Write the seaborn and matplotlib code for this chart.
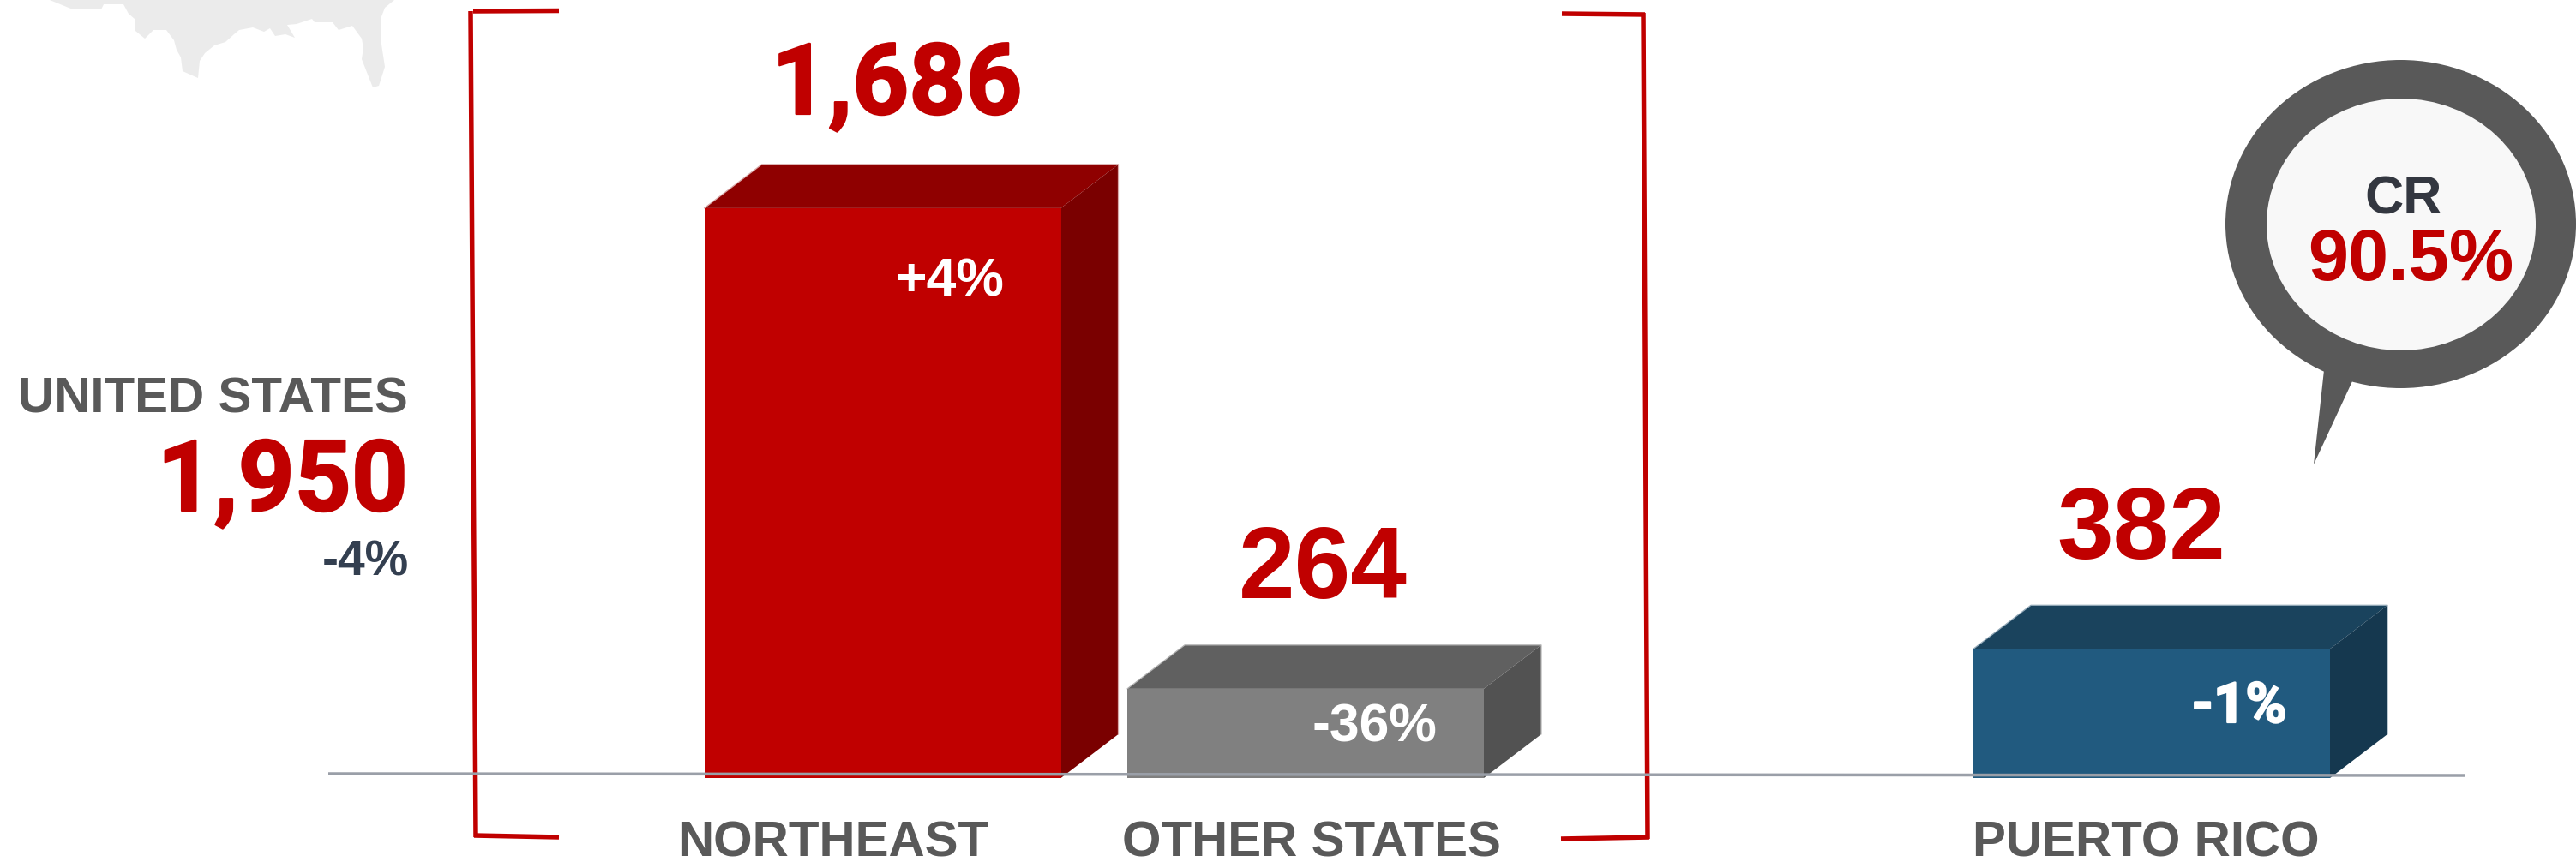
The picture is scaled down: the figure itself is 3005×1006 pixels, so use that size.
import matplotlib
matplotlib.use("Agg")
import matplotlib.patheffects as pe
import matplotlib.pyplot as plt
import pandas as pd
import seaborn as sns
from matplotlib.patches import Ellipse, Polygon

# Chart data
categories = ["NORTHEAST", "OTHER STATES", "PUERTO RICO"]
values = [1686, 264, 382]
value_labels = ["1,686", "264", "382"]
change_labels = ["+4%", "-36%", "-1%"]
total_name = "UNITED STATES"
total_label = "1,950"
total_change = "-4%"
callout_title = "CR"
callout_value = "90.5%"

# Colours for each bar: front, top face, side face, outline of the back faces
front_colors = ["#C00000", "#808080", "#215A7F"]
top_colors = ["#8F0000", "#606060", "#1A435D"]
side_colors = ["#7A0000", "#525252", "#15384F"]
edge_colors = ["#D8A8A8", "#B4B4B4", "#93A9B8"]
RED = "#C00000"
GREY = "#595959"
NAVY = "#333F50"

# Layout in canvas pixels
W, H = 3005, 1006
bar_centres = [1029.5, 1523, 2510]
bar_px = 416
depth_x, depth_y = 67, 51
floor_px = 908
px_per_unit = 0.3945

sns.set_theme(style="white")
plt.rcParams["font.family"] = ["Liberation Sans", "DejaVu Sans"]
plt.rcParams["font.weight"] = "bold"

fig = plt.figure(figsize=(W / 100, H / 100), dpi=100, facecolor="white")

# Bars: x runs in canvas pixels, y runs in chart units
ax = fig.add_axes([0, 0, 1, 1])
frame = pd.DataFrame({"pos": bar_centres, "value": values, "region": categories})
sns.barplot(
    data=frame, x="pos", y="value", hue="region", hue_order=categories,
    palette=front_colors, native_scale=True, dodge=False, legend=False,
    width=bar_px / (bar_centres[1] - bar_centres[0]), saturation=1,
    linewidth=0, ax=ax, zorder=3,
)
ax.set_xlim(0, W)
ax.set_ylim(-(H - floor_px) / px_per_unit, floor_px / px_per_unit)
ax.set_axis_off()

# Extruded top and side faces derived from each bar
dy = depth_y / px_per_unit
bars = sorted([p for p in ax.patches if p.get_width() > 0], key=lambda p: p.get_x())
for bar, c_top, c_side, c_edge in zip(bars, top_colors, side_colors, edge_colors):
    x0, x1 = bar.get_x(), bar.get_x() + bar.get_width()
    h = bar.get_height()
    ax.add_patch(Polygon([(x0, h), (x1, h), (x1 + depth_x, h + dy), (x0 + depth_x, h + dy)],
                         closed=True, fc=c_top, ec="none", zorder=2))
    ax.add_patch(Polygon([(x1, 0), (x1, h), (x1 + depth_x, h + dy), (x1 + depth_x, dy)],
                         closed=True, fc=c_side, ec="none", zorder=2))
    ax.plot([x0, x0 + depth_x, x1 + depth_x, x1 + depth_x],
            [h, h + dy, h + dy, dy], color=c_edge, lw=0.9, zorder=2.5)

# Annotation layer in canvas pixels, y pointing down
over = fig.add_axes([0, 0, 1, 1], facecolor="none")
over.set_xlim(0, W)
over.set_ylim(H, 0)
over.set_axis_off()

# Gulf coast of the backdrop map
coast = [(58, 0), (85, 11), (118, 11), (121, 5), (144, 5), (150, 16), (157, 22), (158, 36),
         (169, 45), (179, 35), (194, 35), (203, 47), (206, 58), (211, 67), (213, 83),
         (231, 91), (233, 71), (239, 62), (250, 53), (263, 49), (273, 40), (279, 35),
         (295, 32), (308, 37), (315, 33), (321, 42), (333, 40), (344, 44), (335, 29),
         (346, 28), (364, 22), (367, 26), (388, 26), (395, 35), (411, 30), (422, 45),
         (424, 56), (422, 69), (431, 92), (435, 102), (442, 100), (449, 78), (444, 45),
         (444, 22), (449, 9), (460, 0)]
over.add_patch(Polygon(coast, closed=True, fc="#EBEBEB", ec="none", zorder=0))

# Brackets around the United States bars
bracket_lw = 5.5 * 72 / 100
over.plot([652, 552], [12.5, 13], color=RED, lw=bracket_lw, solid_capstyle="butt")
over.plot([549, 555], [13, 977], color=RED, lw=bracket_lw, solid_capstyle="butt")
over.plot([553, 652], [975, 977], color=RED, lw=bracket_lw, solid_capstyle="butt")
over.plot([1822, 1919], [16, 17], color=RED, lw=bracket_lw, solid_capstyle="butt")
over.plot([1917, 1922], [15, 979], color=RED, lw=bracket_lw, solid_capstyle="butt")
over.plot([1821, 1924], [979, 977], color=RED, lw=bracket_lw, solid_capstyle="butt")

# Baseline
over.plot([383, 2876], [903, 905], color="#9A9FA8", lw=3.5 * 72 / 100, solid_capstyle="butt", zorder=4)

# Speech bubble
over.add_patch(Polygon([(2711, 432), (2699, 542), (2744, 445)], closed=True, fc=GREY, ec="none"))
over.add_patch(Ellipse((2800.5, 261.5), 409, 383, fc=GREY, ec="none"))
over.add_patch(Ellipse((2801, 262), 314, 294, fc="#F8F8F8", ec="none"))


def label(x, y, s, size, color, ha="center", family=None):
    # Roboto gives the figure one a plain stem with no foot serif
    roboto = family is None and "1" in s
    fam = ["Roboto", "Liberation Sans"] if roboto else ["Liberation Sans", "DejaVu Sans"]
    t = over.text(x, y, s, fontsize=size, color=color, ha=ha, va="baseline",
                  fontweight="bold", family=family or fam, zorder=5)
    if roboto:
        # Slightly heavier strokes to sit with the neighbouring bold labels
        t.set_path_effects([pe.withStroke(linewidth=1.6, foreground=color)])


# Values above the bars
for x, y, s, size in zip([1046, 1543, 2498], [133, 698, 652], value_labels, [83, 85, 85]):
    label(x, y, s, size, RED)

# Percentage changes on the bars
for x, y, s, size in zip([1108, 1603, 2612], [345, 865, 843], change_labels, [45, 45, 47]):
    label(x, y, s, size, "white")

# Category names under the bars
for x, y, s in zip([972, 1530, 2503], [999, 999, 1000], categories):
    label(x, y, s, 42, GREY)

# United States total
label(476, 482, total_name, 42, GREY, ha="right")
label(476, 596, total_label, 83, RED, ha="right")
label(477, 672, total_change, 41, NAVY, ha="right")

# Speech bubble text
label(2804, 249, callout_title, 45, "#333740")
label(2812, 327, callout_value, 61, RED, family=["Liberation Sans", "DejaVu Sans"])

fig.savefig("out.png", dpi=100)
